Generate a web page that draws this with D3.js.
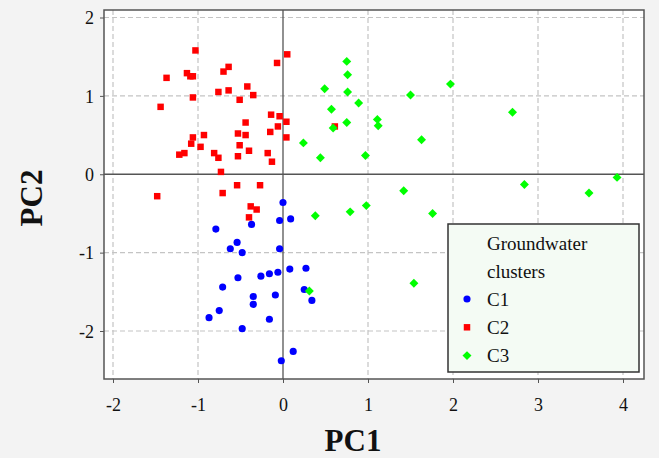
<!DOCTYPE html>
<html><head><meta charset="utf-8">
<script src="https://cdn.jsdelivr.net/npm/d3@7"></script>
<style>body{margin:0;background:#f3f3f3;}svg{display:block;}</style>
</head><body>
<script>
const xTicks = [-2,-1,0,1,2,3,4];
const yTicks = [-2,-1,0,1,2];
const seriesNames = ["C1","C2","C3"];
const legendTitle = ["Groundwater","clusters"];
const c1 = [[0.00,-0.36],[-0.37,-0.64],[-0.04,-0.59],[0.09,-0.57],[-0.79,-0.70],[-0.54,-0.87],[-0.62,-0.95],[-0.48,-1.00],[-0.04,-0.95],[0.08,-1.21],[-0.06,-1.25],[-0.16,-1.27],[-0.26,-1.30],[-0.53,-1.32],[-0.71,-1.44],[-0.35,-1.56],[-0.35,-1.66],[-0.09,-1.54],[-0.75,-1.74],[-0.87,-1.83],[-0.16,-1.85],[-0.48,-1.97],[0.12,-2.26],[-0.02,-2.38],[0.27,-1.20],[0.25,-1.47],[0.34,-1.61]];
const c2 = [[-1.03,1.58],[0.05,1.53],[-0.07,1.42],[-0.64,1.37],[-0.70,1.31],[-1.37,1.23],[-1.13,1.29],[-1.09,1.25],[-1.06,1.25],[-0.76,1.05],[-0.64,1.07],[-0.42,1.12],[-0.35,1.01],[-0.51,0.95],[-1.06,0.98],[-1.44,0.86],[-0.14,0.76],[-0.04,0.74],[0.04,0.67],[-0.44,0.66],[-0.06,0.61],[-0.15,0.54],[-0.53,0.52],[-0.44,0.50],[0.04,0.47],[-0.93,0.50],[-1.06,0.47],[-1.08,0.39],[-0.97,0.35],[-0.51,0.37],[-0.40,0.30],[-0.53,0.23],[-0.18,0.27],[-0.13,0.16],[-0.81,0.27],[-0.76,0.21],[-1.22,0.25],[-1.16,0.27],[-0.73,0.03],[-0.54,-0.14],[-0.27,-0.14],[-1.48,-0.28],[-0.71,-0.24],[-0.38,-0.41],[-0.31,-0.45],[-0.40,-0.55],[0.61,0.61]];
const c3 = [[0.75,1.44],[0.76,1.27],[0.49,1.09],[0.76,1.05],[1.50,1.01],[1.97,1.15],[0.57,0.83],[0.89,0.91],[1.11,0.70],[1.12,0.62],[0.75,0.66],[0.59,0.59],[1.63,0.44],[0.24,0.40],[0.44,0.21],[0.97,0.24],[1.42,-0.21],[2.70,0.79],[2.84,-0.13],[3.60,-0.24],[3.93,-0.04],[0.38,-0.53],[0.79,-0.48],[0.98,-0.40],[1.76,-0.50],[0.31,-1.49],[1.54,-1.39]];

const W = 659, H = 458;
const L = 104, R = 644, T = 10, B = 379;
const x = d3.scaleLinear().domain([-2,4]).range([113,623]);
const y = d3.scaleLinear().domain([-2,2]).range([331,17.5]);
const svg = d3.select("body").append("svg").attr("width",W).attr("height",H);
svg.append("rect").attr("width",W).attr("height",H).attr("fill","#f3f3f3");
svg.append("rect").attr("x",L).attr("y",T).attr("width",R-L).attr("height",B-T).attr("fill","#fff");
const font = "'Liberation Serif','Times New Roman',serif";
// grid
const g = svg.append("g");
g.selectAll(".gx").data(xTicks.filter(d=>d!==0)).join("line")
  .attr("x1",d=>x(d)).attr("x2",d=>x(d)).attr("y1",T).attr("y2",B)
  .attr("stroke","#c4c4c4").attr("stroke-width",1.2).attr("stroke-dasharray","5,3");
g.selectAll(".gy").data(yTicks.filter(d=>d!==0)).join("line")
  .attr("y1",d=>y(d)).attr("y2",d=>y(d)).attr("x1",L).attr("x2",R)
  .attr("stroke","#c4c4c4").attr("stroke-width",1.2).attr("stroke-dasharray","5,3");
// zero lines
svg.append("line").attr("x1",x(0)).attr("x2",x(0)).attr("y1",T).attr("y2",B).attr("stroke","#555").attr("stroke-width",1.3);
svg.append("line").attr("y1",y(0)).attr("y2",y(0)).attr("x1",L).attr("x2",R).attr("stroke","#555").attr("stroke-width",1.3);
// axes
const fmt = d => String(d);
const xa = svg.append("g").attr("transform",`translate(0,${B})`).call(d3.axisBottom(x).tickValues(xTicks).tickSize(4).tickSizeOuter(0).tickFormat(fmt));
const ya = svg.append("g").attr("transform",`translate(${L},0)`).call(d3.axisLeft(y).tickValues(yTicks).tickSize(4).tickSizeOuter(0).tickFormat(fmt));
[xa,ya].forEach(a=>{a.select(".domain").remove();a.selectAll("line").attr("stroke","#555");
  a.selectAll("text").attr("font-family",font).attr("font-size",18).attr("fill","#111");});
xa.selectAll("text").attr("dy",null).attr("y",32);
ya.selectAll("text").attr("x",-10).attr("dy","0.35em");
// border
svg.append("rect").attr("x",L).attr("y",T).attr("width",R-L).attr("height",B-T).attr("fill","none").attr("stroke","#555").attr("stroke-width",1.5);
// points
const colors = {C1:"#0000ff",C2:"#ff0000",C3:"#00ff00"};
const sym = {C1:d3.symbolCircle,C2:d3.symbolSquare,C3:d3.symbolSquare};
const size = {C1:40,C2:42,C3:40};
const rot = {C1:0,C2:0,C3:45};
[[c1,"C1"],[c2,"C2"],[c3,"C3"]].forEach(([data,k])=>{
  svg.append("g").selectAll("path").data(data).join("path")
    .attr("transform",d=>`translate(${x(d[0])},${y(d[1])}) rotate(${rot[k]})`)
    .attr("d",d3.symbol().type(sym[k]).size(size[k])).attr("fill",colors[k]);
});
// legend
const lg = svg.append("g");
lg.append("rect").attr("x",448).attr("y",224).attr("width",191).attr("height",148).attr("fill","#f4fbf4").attr("stroke","#333").attr("stroke-width",1.5);
lg.selectAll(".lt").data(legendTitle).join("text").attr("x",487).attr("y",(d,i)=>250+i*27.5)
  .attr("font-family",font).attr("font-size",19).attr("fill","#111").text(d=>d);
seriesNames.forEach((k,i)=>{
  const cy = 299+i*28.3;
  lg.append("path").attr("transform",`translate(467,${cy}) rotate(${rot[k]})`).attr("d",d3.symbol().type(sym[k]).size(size[k])).attr("fill",colors[k]);
  lg.append("text").attr("x",487).attr("y",cy+6.5).attr("font-family",font).attr("font-size",19).attr("fill","#111").text(k);
});
// axis titles
svg.append("text").attr("x",353).attr("y",451).attr("text-anchor","middle").attr("font-family",font).attr("font-weight","bold").attr("font-size",31).attr("fill","#111").text("PC1");
svg.append("text").attr("transform","translate(42,198) rotate(-90)").attr("text-anchor","middle").attr("font-family",font).attr("font-weight","bold").attr("font-size",31).attr("fill","#111").text("PC2");
</script>
</body></html>
